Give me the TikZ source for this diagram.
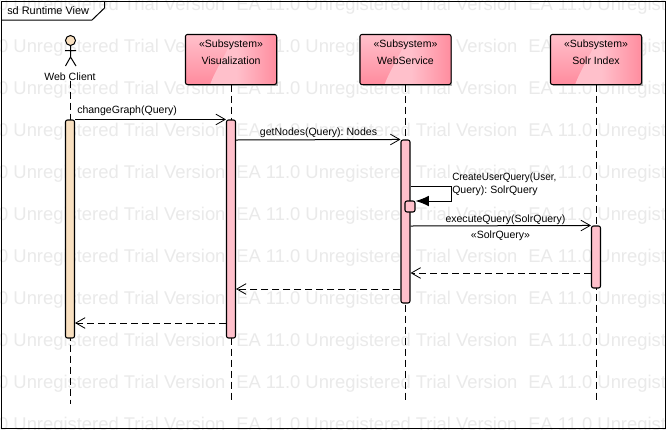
\documentclass[tikz,border=0pt]{standalone}
\usepackage{fontspec}
\usepackage{graphicx}
\setmainfont{Liberation Sans}
\frenchspacing
\usetikzlibrary{arrows.meta}
\definecolor{barpink}{HTML}{FFC0CB}
\definecolor{barpeach}{HTML}{F9E0C0}
\definecolor{boxdark}{HTML}{FF8C9E}
\definecolor{wmark}{HTML}{EAEAEA}
\tikzset{
  wm/.style={text=wmark,font=\fontsize{13.8pt}{14pt}\selectfont,inner sep=0pt,anchor=west},
  lbl/.style={font=\fontsize{7.9pt}{9.75pt}\selectfont,inner sep=0pt,text=black},
  subsys/.style={draw=black,line width=.8pt,rounded corners=1.5pt,minimum width=67.5pt,minimum height=36.75pt,inner sep=0pt,fill=boxdark},
  actbar/.style={draw=black,line width=.8pt,rounded corners=1.5pt,inner sep=0pt,minimum width=6.75pt,fill=barpink},
  life/.style={line width=.75pt,dash pattern=on 5.25pt off 3pt},
  msg/.style={line width=.75pt,-{Straight Barb[length=7pt,width=8pt,line width=.6pt]}},
  ret/.style={msg,dash pattern=on 5.25pt off 3pt},
}
\newcommand{\boxshade}[2]{%
  \fill[black!30] (#1+2,37) rectangle (#1+91.5,85.5);
  \node[subsys] (#2) at (#1+45,59.5) {};
  \begin{scope}
    \clip[rounded corners=1.5pt] (#2.south west) rectangle (#2.north east);
    \shade[top color=barpink,bottom color=boxdark] (#1,35) rectangle (#1+90,84);
    \clip (#1+24,85) .. controls (#1+29,70) and (#1+42,52) .. (#1+48,34) -- (#1+91,34) -- (#1+91,85) -- cycle;
    \shade[left color=barpink,right color=boxdark,middle color=barpink] (#1+10,34) rectangle (#1+91,85);
  \end{scope}
  \draw[line width=.8pt,rounded corners=1.5pt] (#2.south west) rectangle (#2.north east);
}
\begin{document}
\begin{tikzpicture}[x=.75pt,y=-.75pt]
\useasboundingbox (0,0) rectangle (666,429);
\fill[white] (0,0) rectangle (666,429);
% watermark
\foreach \r in {6,48,90,132,174,216,258,300,342,384,426}{
  \foreach \c in {-56,236,528}{
    \node[wm] at (\c,\r) {EA 11.0 Unregistered Trial Version};
  }
}
% frame
\coordinate (fa) at (1.5,1);
\coordinate (fb) at (665,1);
\coordinate (fc) at (665,428);
\coordinate (fd) at (1.5,428);
\draw[line width=.75pt] (fa) -- (fb) -- (fc) -- (fd) -- cycle;
\coordinate (ta) at (1.5,20);
\coordinate (tb) at (92,20);
\coordinate (tc) at (104.5,8);
\coordinate (td) at (104.5,1);
\draw[line width=.75pt] (ta) -- (tb) -- (tc) -- (td);
\node[lbl,anchor=west,font=\fontsize{8.2pt}{9.6pt}\selectfont] (frametitle) at (7,10.5) {sd Runtime View};
% lifelines boxes
\boxshade{186}{viz}
\boxshade{360.5}{ws}
\boxshade{551}{solr}
\node[lbl] (vizt1) at (231,45) {«Subsystem»};
\node[lbl] (vizt2) at (231,60.5) {Visualization};
\node[lbl] (wst1) at (405.5,45) {«Subsystem»};
\node[lbl] (wst2) at (405.5,60.5) {WebService};
\node[lbl] (solrt1) at (596,45) {«Subsystem»};
\node[lbl] (solrt2) at (596,60.5) {Solr Index};
% actor
\coordinate (neck) at (70.5,45.5);
\coordinate (hip) at (70.5,57);
\coordinate (larm) at (65,50.5);
\coordinate (rarm) at (76,50.5);
\coordinate (lleg) at (65.5,66);
\coordinate (rleg) at (76,66);
\draw[line width=.75pt,fill=barpeach] (70.5,40.5) circle [radius=5];
\draw[line width=.75pt] (neck) -- (hip) (larm) -- (rarm) (lleg) -- (hip) -- (rleg);
\node[lbl] (wc) at (70,76.5) {Web Client};
% lifeline ends
\coordinate (wcend) at (70.5,404);
\coordinate (vizend) at (231,400);
\coordinate (wsend) at (405.5,400);
\coordinate (solrend) at (596,400);
\draw[life] (wc.south -| wcend) -- (wcend);
\draw[life] (viz.south) -- (vizend);
\draw[life] (ws.south) -- (wsend);
\draw[life] (solr.south) -- (solrend);
% activation bars
\node[actbar,fill=barpeach,minimum height=163.5pt] (wcbar) at (70,229) {};
\node[actbar,minimum height=163.5pt] (vizbar) at (231,229) {};
\node[actbar,minimum height=122.25pt] (wsbar) at (405.5,221.5) {};
\node[actbar,minimum height=46.5pt] (solrbar) at (596,257) {};
\node[actbar,minimum height=8.25pt,minimum width=7.5pt] (selfbar) at (410,206.5) {};
% messages
\draw[msg] (wcbar.north east) -- (vizbar.north west);
\node[lbl,anchor=west] (m1) at (77,110.5) {changeGraph(Query)};
\coordinate (m2a) at (vizbar.east |- 0,140);
\draw[msg] (m2a) -- (wsbar.north west);
\node[lbl] (m2) at (318.5,133) {getNodes(Query): Nodes};
\coordinate (m3a) at (wsbar.east |- 0,186);
\coordinate (m3b) at (451,186);
\coordinate (m3c) at (451,201);
\coordinate (m3d) at (selfbar.east |- 0,201);
\draw[line width=.75pt,-{Latex[length=10pt,width=8pt]}] (m3a) -- (m3b) -- (m3c) -- (m3d);
\node[lbl,anchor=north west,align=left] (m3) at (452,173) {\scalebox{.94}[1]{CreateUserQuery(User,}\\Query): SolrQuery};
\coordinate (m4a) at (wsbar.east |- 0,226);
\draw[msg] (m4a) -- (solrbar.north west);
\node[lbl] (m4) at (505.5,219.5) {executeQuery(SolrQuery)};
\node[lbl] (m4b) at (500.5,236) {«SolrQuery»};
\coordinate (r1a) at (solrbar.west |- 0,273);
\coordinate (r1b) at (wsbar.east |- 0,273);
\draw[ret] (r1a) -- (r1b);
\coordinate (r2a) at (wsbar.west |- 0,289);
\coordinate (r2b) at (vizbar.east |- 0,289);
\draw[ret] (r2a) -- (r2b);
\coordinate (r3a) at (vizbar.west |- 0,323);
\coordinate (r3b) at (wcbar.east |- 0,323);
\draw[ret] (r3a) -- (r3b);
\end{tikzpicture}
\end{document}
